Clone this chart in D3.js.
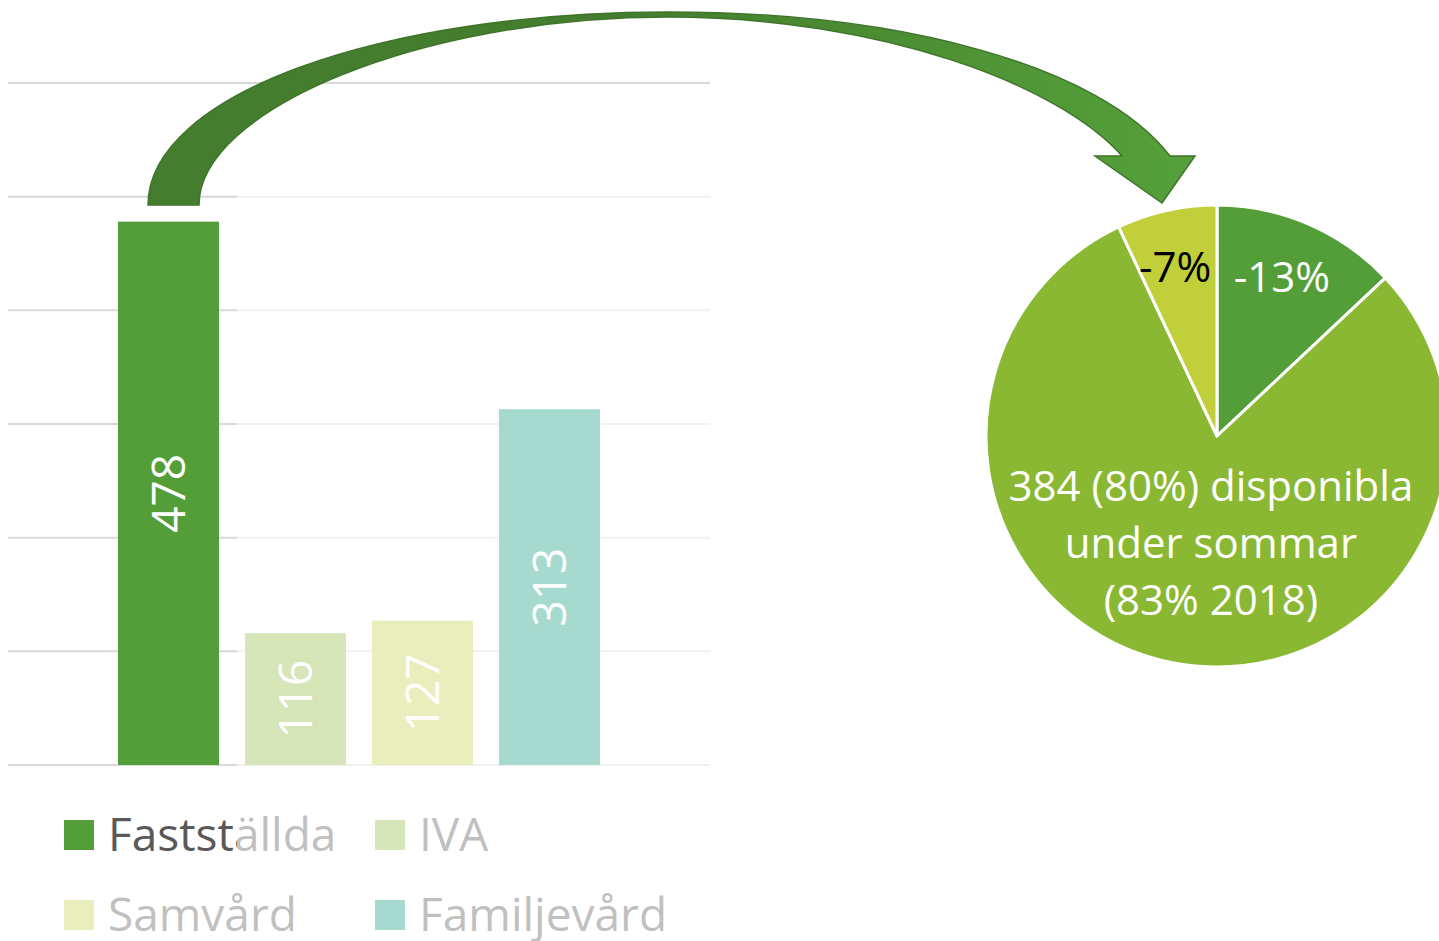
<!DOCTYPE html>
<html>
<head>
<meta charset="utf-8">
<script src="https://cdn.jsdelivr.net/npm/d3@7"></script>
<style>
  body { margin: 0; background: #fff; }
  text { font-family: "Open Sans", sans-serif; }
</style>
</head>
<body>
<div id="container"></div>
<script>
/* data */
const categories = ["Fastställda", "IVA", "Samvård", "Familjevård"];
const values = [478, 116, 127, 313];
const yTicks = [0, 100, 200, 300, 400, 500, 600];

const pieNames = ["minskning", "disponibla", "minskning2"];
const pieValues = [13, 80, 7];
const pieLabels = [["-13%"], ["384 (80%) disponibla", "under sommar", "(83% 2018)"], ["-7%"]];

/* sizes */
const width = 1439;
const height = 941;
const plotLeft = 8, plotRight = 710;   /* gridline span */
const plotTop = 83, plotBottom = 765;

const svg = d3.select("#container")
  .append("svg")
  .attr("width", width)
  .attr("height", height)

const defs = svg.append("defs")
const grad = defs.append("linearGradient")
  .attr("id", "arrowGrad")
  .attr("gradientUnits", "userSpaceOnUse")
  .attr("x1", 620).attr("x2", 1180).attr("y1", 0).attr("y2", 0)
grad.append("stop").attr("offset", "0%").attr("stop-color", "#447d2d")
grad.append("stop").attr("offset", "100%").attr("stop-color", "#55a03a")

/* SCALES */
const xScale = d3.scaleBand()
  .domain(categories)
  .range([105, 613])
  .paddingInner(0.2047)
  .paddingOuter(0.1024)

const yScale = d3.scaleLinear()
  .domain([0, 600])
  .range([plotBottom, plotTop])

const colorScale = d3.scaleOrdinal()
  .domain(categories)
  .range(["#549e39", "#93bd44", "#c5d24f", "#1a9e7e"]) /* shown through the white veil */

/* GRIDLINES */
svg.append("g")
  .selectAll("line")
  .data(yTicks)
  .join("line")
  .attr("x1", plotLeft)
  .attr("x2", plotRight)
  .attr("y1", d => yScale(d))
  .attr("y2", d => yScale(d))
  .attr("stroke", "#d9d9d9")
  .attr("stroke-width", 2)

/* BARS */
svg.selectAll(".bar")
  .data(categories)
  .join("rect")
  .attr("class", "bar")
  .attr("x", d => xScale(d))
  .attr("y", (d, i) => yScale(values[i]))
  .attr("width", xScale.bandwidth())
  .attr("height", (d, i) => yScale(0) - yScale(values[i]))
  .attr("fill", d => colorScale(d))

/* LEGEND */
const legend = svg.append("g")
  .selectAll("g")
  .data(categories)
  .join("g")
  .attr("transform", (d, i) => `translate(${i % 2 ? 375 : 64}, ${820 + Math.floor(i / 2) * 80})`)
legend.append("rect")
  .attr("width", 30).attr("height", 30)
  .attr("fill", d => colorScale(d))
legend.append("text")
  .attr("x", 44)
  .attr("y", 31)
  .attr("font-size", 46)
  .attr("fill", "#595959")
  .text(d => d)

/* white veil that lies over the right part of the bar chart and the 2nd legend row */
const veil = svg.append("g").attr("fill", "#fff").attr("opacity", 0.62)
veil.append("path")
  .attr("d", `M237,185 H722 V${height} H40 V872 H237 Z`)

/* BAR LABELS (white, rotated) */
svg.selectAll(".barlabel")
  .data(categories)
  .join("text")
  .attr("class", "barlabel")
  .attr("transform", (d, i) => {
    const cx = xScale(d) + xScale.bandwidth() / 2;
    const cy = (yScale(values[i]) + yScale(0)) / 2;
    return `translate(${cx}, ${cy}) rotate(-90)`;
  })
  .attr("text-anchor", "middle")
  .attr("dy", "0.36em")
  .attr("font-size", 46)
  .attr("fill", "#fff")
  .text((d, i) => values[i])

/* PIE */
const R = 231;
const pieG = svg.append("g").attr("transform", "translate(1217, 436)")
const pie = d3.pie().sort(null).value(d => d)
const arcs = pie(pieValues)
const arc = d3.arc().innerRadius(0).outerRadius(R)
const pieColor = d3.scaleOrdinal().domain(pieNames).range(["#549e39", "#8ab833", "#c0cf3a"])

pieG.selectAll("path")
  .data(arcs)
  .join("path")
  .attr("d", arc)
  .attr("fill", (d, i) => pieColor(pieNames[i]))
  .attr("stroke", "#fff")
  .attr("stroke-width", 3)
  .attr("stroke-linejoin", "round")

const labelPos = d => {
  const r = d.value > 50 ? 0.47 * R : 0.75 * R;
  const c = d3.arc().innerRadius(r).outerRadius(r).centroid(d);
  return d.value > 50 ? [c[0] * 0.3, c[1]] : [c[0] - 4, c[1]];
}

const pl = pieG.selectAll(".plabel")
  .data(arcs)
  .join("text")
  .attr("class", "plabel")
  .attr("transform", d => `translate(${labelPos(d)})`)
  .attr("text-anchor", "middle")
  .attr("font-size", 42)
  .attr("fill", (d, i) => i === 2 ? "#000" : "#fff")
pl.selectAll("tspan")
  .data((d, i) => pieLabels[i].map((t, j, a) => ({ t, j, n: a.length })))
  .join("tspan")
  .attr("x", 0)
  .attr("y", d => (d.j - (d.n - 1) / 2) * 57)
  .attr("dy", "0.36em")
  .text(d => d.t)

/* CURVED ARROW from the 478 bar to the pie */
svg.append("path")
  .attr("d", "M148,205 C148,95 380,12 668,12 C900,12 1100,65 1170,156 L1195,156 L1162,203 L1095,156 L1122,156 C1060,85 880,17 668,17 C420,17 199,110 199,205 Z")
  .attr("fill", "url(#arrowGrad)")
  .attr("stroke", "#3f752a")
  .attr("stroke-width", 1.5)
  .attr("stroke-linejoin", "miter")
</script>
</body>
</html>
